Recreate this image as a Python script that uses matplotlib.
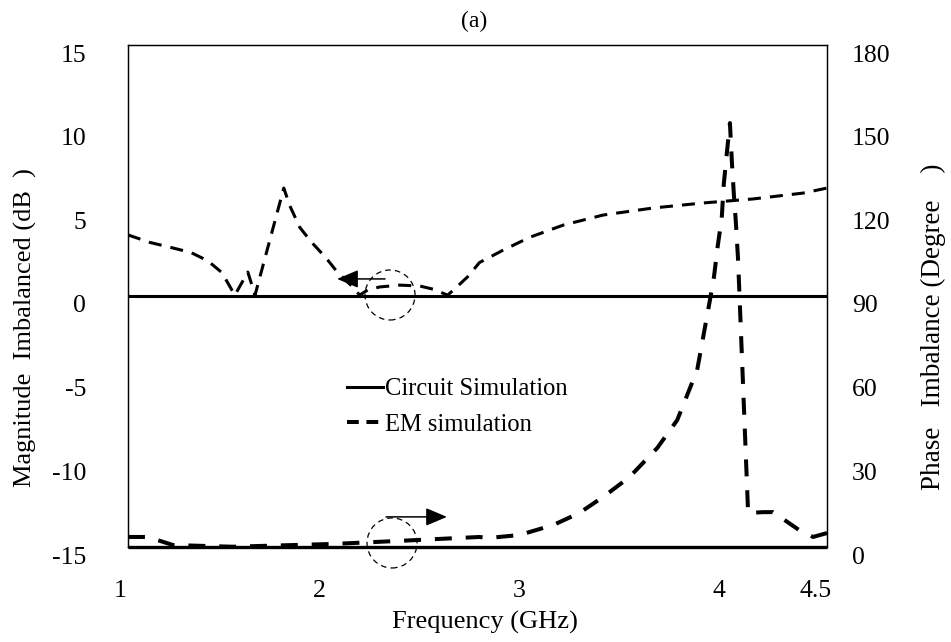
import matplotlib
matplotlib.use("Agg")
import matplotlib.pyplot as plt
from matplotlib.lines import Line2D
from matplotlib.patches import Ellipse
from matplotlib.transforms import ScaledTranslation

plt.rcParams['font.family'] = ['Liberation Serif', 'DejaVu Serif']
plt.rcParams['axes.unicode_minus'] = False
plt.rcParams['lines.scale_dashes'] = False

# ---- data ----
freq_mag = [1.00, 1.11, 1.215, 1.315, 1.40, 1.47, 1.535, 1.60, 1.636, 1.78, 1.81,
            1.86, 1.92, 1.99, 2.05, 2.12, 2.16, 2.20, 2.26, 2.36, 2.46, 2.53,
            2.60, 2.63, 2.70, 2.76, 2.88, 3.01, 3.18, 3.38, 3.63, 3.88, 4.13,
            4.38, 4.50]
mag_em = [3.65, 3.2, 2.9, 2.6, 2.1, 1.4, 0.05, 1.43, 0.05, 6.45, 5.4,
          4.1, 3.2, 2.3, 1.4, 0.6, 0.05, 0.36, 0.54, 0.65, 0.6, 0.4,
          0.05, 0.36, 1.14, 2.0, 2.75, 3.5, 4.24, 4.84, 5.26, 5.56, 5.8,
          6.15, 6.45]
freq_circ = [1.0, 4.5]
mag_circ = [0.0, 0.0]

freq_ph = [1.00, 1.10, 1.16, 1.225, 1.525, 2.03, 2.36, 2.76, 2.80, 2.96, 3.13,
           3.26, 3.38, 3.51, 3.65, 3.75, 3.85, 3.914, 3.934, 3.953, 3.973,
           3.983, 3.999, 4.014, 4.024, 4.034, 4.044, 4.054, 4.062, 4.105,
           4.18, 4.23, 4.36, 4.43, 4.50]
ph_em = [3.6, 3.6, 2.2, 0.7, 0.1, 1.1, 2.2, 3.6, 3.2, 4.3, 7.9,
         12.2, 18, 25, 35.5, 45.5, 63.5, 88.6, 96.8, 108, 118,
         130, 141.6, 152, 137.7, 126, 116, 104, 90, 12.2,
         12.5, 12.5, 6.1, 3.6, 5.0]
ph_circ = [0.0, 0.0]

x_ticks = [1, 2, 3, 4, 4.5]
x_tick_labels = ['1', '2', '3', '4', '4.5']
left_ticks = [-15, -10, -5, 0, 5, 10, 15]
right_ticks = [0, 30, 60, 90, 120, 150, 180]

FS_TICK = 18.5
FS_LEG = 17.7
FS_LAB = 19
FS_TITLE = 17

fig = plt.figure(figsize=(9.51, 6.42), dpi=100)
ax = fig.add_axes([128/951, 1-547/642, 699/951, 502/642])
ax2 = ax.twinx()

ax.set_xlim(1, 4.5)
ax.set_ylim(-15, 15)
ax2.set_ylim(0, 180)

# lines
ax.plot(freq_circ, mag_circ, color='black', lw=2.2, solid_capstyle='butt')
ax.plot(freq_mag, mag_em, color='black', lw=2.2, linestyle=(0, (9.4, 6.5)))
ax2.plot(freq_circ, ph_circ, color='black', lw=2.4, clip_on=False, solid_capstyle='butt')
ax2.plot(freq_ph, ph_em, color='black', lw=2.9, linestyle=(0, (12.2, 10.0)))

# spines
for a in (ax, ax2):
    for s in a.spines.values():
        s.set_linewidth(0.9)
    a.tick_params(length=0)

ax.set_xticks(x_ticks)
ax.set_xticklabels(x_tick_labels, fontsize=FS_TICK)
ax.set_yticks(left_ticks)
ax.set_yticklabels([str(v) for v in left_ticks], fontsize=FS_TICK)
ax2.set_yticks(right_ticks)
ax2.set_yticklabels([str(v) for v in right_ticks], fontsize=FS_TICK)
ax.tick_params(axis='x', pad=24)
ax.tick_params(axis='y', pad=30)
ax2.tick_params(axis='y', pad=18)

# Excel-like label offsets
for lab in ax.get_xticklabels():
    dx = -8/100 if lab.get_text() != '4.5' else -11/100
    lab.set_transform(lab.get_transform() + ScaledTranslation(dx, 0, fig.dpi_scale_trans))
for lab in ax.get_yticklabels() + ax2.get_yticklabels():
    lab.set_transform(lab.get_transform() + ScaledTranslation(0, -8/100, fig.dpi_scale_trans))

# annotations: dashed circles & arrows
ax.add_patch(Ellipse((2.312, 0.06), 50/199.7, 50/16.73, fill=False, ec='black',
                     lw=0.9, ls=(0, (4, 3))))
ax.add_patch(Ellipse((2.322, -14.76), 50/199.7, 50/16.73, fill=False, ec='black',
                     lw=0.9, ls=(0, (4, 3)), clip_on=False))
ax.annotate('', xy=(2.047, 1.02), xytext=(2.287, 1.02),
            arrowprops=dict(arrowstyle='-|>,head_length=1.3,head_width=0.55',
                            mutation_scale=10, color='black', lw=1.1,
                            shrinkA=0, shrinkB=0))
ax.annotate('', xy=(2.597, -13.2), xytext=(2.292, -13.2),
            arrowprops=dict(arrowstyle='-|>,head_length=1.3,head_width=0.55',
                            mutation_scale=10, color='black', lw=1.1,
                            shrinkA=0, shrinkB=0))

# legend
handles = [Line2D([], [], color='black', lw=2.2),
           Line2D([], [], color='black', lw=2.9, linestyle=(0, (8.5, 5.5)))]
leg = ax.legend(handles, ['Circuit Simulation', 'EM simulation'], loc='center left',
                bbox_to_anchor=((347-128)/699, (547-407)/502), frameon=False,
                fontsize=FS_LEG, handlelength=1.46, handletextpad=0.08,
                borderpad=0, borderaxespad=0, labelspacing=0.55)

# labels
fig.text(474/951, 1-21/642, '(a)', ha='center', va='center', fontsize=FS_TITLE)
fig.text(485/951, 1-622/642, 'Frequency (GHz)', ha='center', va='center', fontsize=FS_LAB)
fig.text(25/951, 1-328/642, 'Magnitude  Imbalanced (dB  )', ha='center', va='center',
         rotation=90, fontsize=FS_LAB)
fig.text(933/951, 1-327/642, 'Phase   Imbalance (Degree    )', ha='center', va='center',
         rotation=90, fontsize=19.5)

fig.savefig('out.png', dpi=100)
